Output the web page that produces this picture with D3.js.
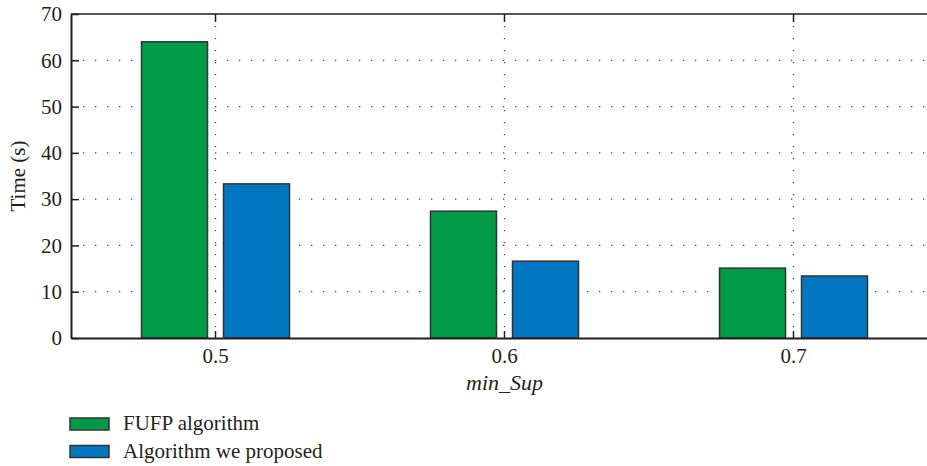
<!DOCTYPE html>
<html>
<head>
<meta charset="utf-8">
<script src="https://cdn.jsdelivr.net/npm/d3@7"></script>
<style>
  body { margin: 0; background: #fff; }
  svg text { font-family: "Liberation Serif", "DejaVu Serif", serif; fill: #231f20; }
</style>
</head>
<body>
<svg id="chart" width="927" height="466"></svg>
<script>
// data
var categories = ['0.5', '0.6', '0.7'];
var seriesNames = ['FUFP algorithm', 'Algorithm we proposed'];
var fufpValues = [64, 27.4, 15.1];
var proposedValues = [33.3, 16.6, 13.4];
var yTicks = [0, 10, 20, 30, 40, 50, 60, 70];
var colors = ['#009a48', '#0077c0'];

var svg = d3.select('#chart');

// plot box (the right edge of the frame falls outside the picture)
var plotLeft = 71, plotRight = 938, plotTop = 14, plotBottom = 338;

var x = d3.scaleBand().domain(categories).range([plotLeft, plotRight]);
var y = d3.scaleLinear().domain([0, 70]).range([plotBottom, plotTop]);

var center = function(d) { return x(d) + x.bandwidth() / 2; };

// Dotted grid
svg.append('g').selectAll('line')
  .data(yTicks.slice(1, -1))
  .enter().append('line')
  .attr('x1', plotLeft).attr('x2', plotRight)
  .attr('y1', function(d) { return y(d); })
  .attr('y2', function(d) { return y(d); })
  .attr('stroke', '#444').attr('stroke-width', 1.3)
  .attr('stroke-dasharray', '1.3,10.7');

svg.append('g').selectAll('line')
  .data(categories)
  .enter().append('line')
  .attr('x1', center).attr('x2', center)
  .attr('y1', plotTop).attr('y2', plotBottom)
  .attr('stroke', '#444').attr('stroke-width', 1.3)
  .attr('stroke-dasharray', '1.3,10.7');

// Bars
var barW = 66, gap = 16;
var series = [fufpValues, proposedValues];
series.forEach(function(values, si) {
  svg.append('g').selectAll('rect')
    .data(values)
    .enter().append('rect')
    .attr('x', function(d, i) {
      var c = center(categories[i]);
      return si === 0 ? c - gap / 2 - barW : c + gap / 2;
    })
    .attr('y', function(d) { return y(d); })
    .attr('width', barW)
    .attr('height', function(d) { return y(0) - y(d); })
    .attr('fill', colors[si])
    .attr('stroke', '#333').attr('stroke-width', 1.5);
});

// Frame: top in grey, left and bottom in black
svg.append('line').attr('x1', plotLeft).attr('x2', plotRight).attr('y1', plotTop).attr('y2', plotTop)
  .attr('stroke', '#555').attr('stroke-width', 1.8);

// Y axis with inward ticks
var yAxis = svg.append('g')
  .attr('transform', 'translate(' + plotLeft + ',0)')
  .call(d3.axisLeft(y).tickValues(yTicks).tickSize(-8).tickSizeOuter(0).tickPadding(9));
yAxis.select('.domain').attr('stroke', '#231f20').attr('stroke-width', 2);
yAxis.selectAll('.tick line').attr('stroke', '#231f20').attr('stroke-width', 1.5);
yAxis.selectAll('.tick text').attr('font-size', 21);

// X axis with inward ticks
var xAxis = svg.append('g')
  .attr('transform', 'translate(0,' + plotBottom + ')')
  .call(d3.axisBottom(x).tickSize(-7).tickSizeOuter(0).tickPadding(10));
xAxis.select('.domain').attr('stroke', '#231f20').attr('stroke-width', 2);
xAxis.selectAll('.tick line').attr('stroke', '#231f20').attr('stroke-width', 1.5);
xAxis.selectAll('.tick text').attr('font-size', 21);

// top ticks at the categories
svg.append('g').selectAll('line')
  .data(categories)
  .enter().append('line')
  .attr('x1', center).attr('x2', center)
  .attr('y1', plotTop).attr('y2', plotTop + 8)
  .attr('stroke', '#231f20').attr('stroke-width', 1.5);

// Axis titles
svg.append('text')
  .attr('transform', 'translate(25,' + ((plotTop + plotBottom) / 2) + ') rotate(-90)')
  .attr('text-anchor', 'middle')
  .attr('font-size', 21)
  .text('Time (s)');

svg.append('text')
  .attr('x', center('0.6'))
  .attr('y', 390)
  .attr('text-anchor', 'middle')
  .attr('font-size', 22)
  .attr('font-style', 'italic')
  .text('min_Sup');

// Legend
var legend = svg.append('g').selectAll('g')
  .data(seriesNames)
  .enter().append('g')
  .attr('transform', function(d, i) { return 'translate(70,' + (418 + i * 27.5) + ')'; });
legend.append('rect')
  .attr('width', 39).attr('height', 12)
  .attr('fill', function(d, i) { return colors[i]; })
  .attr('stroke', '#333').attr('stroke-width', 1.5);
legend.append('text')
  .attr('x', 53).attr('y', 12)
  .attr('font-size', 21)
  .text(function(d) { return d; });
</script>
</body>
</html>
